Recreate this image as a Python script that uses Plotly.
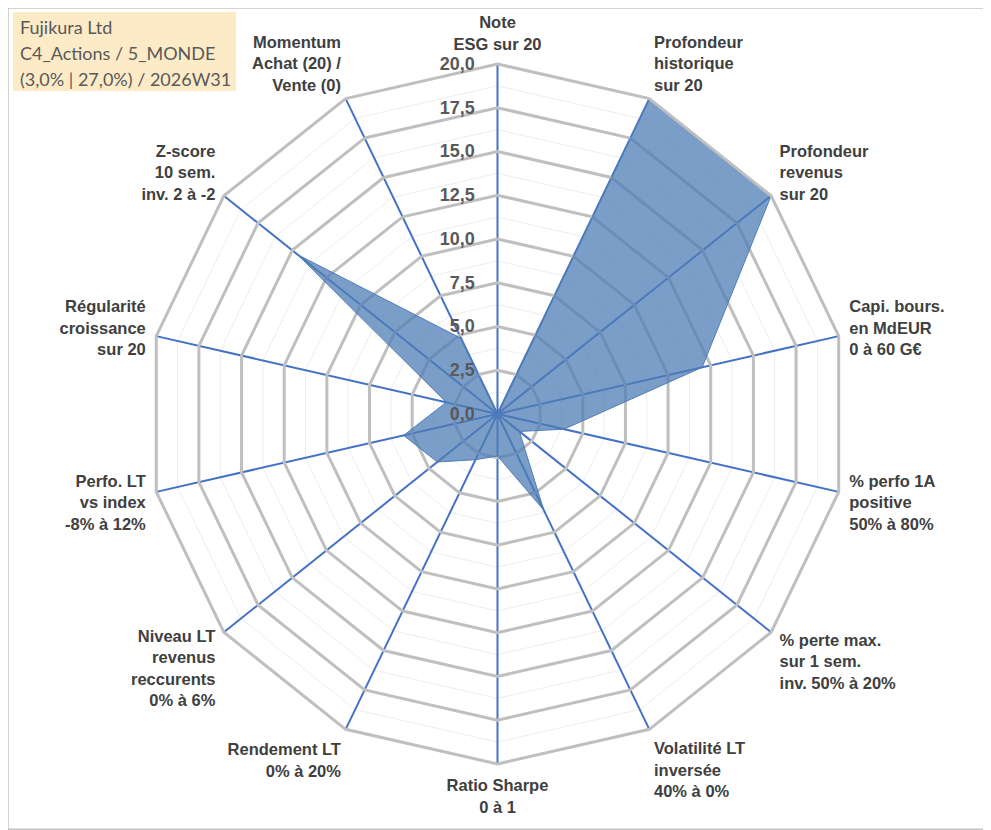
import plotly.graph_objects as go

# axes of the radar, clockwise from the top
CATEGORIES = [
    "Note<br>ESG sur 20",
    "Profondeur<br>historique<br>sur 20",
    "Profondeur<br>revenus<br>sur 20",
    "Capi. bours.<br>en MdEUR<br>0 à 60 G€",
    "% perfo 1A<br>positive<br>50% à 80%",
    "% perte max.<br>sur 1 sem.<br>inv. 50% à 20%",
    "Volatilité LT<br>inversée<br>40% à 0%",
    "Ratio Sharpe<br>0 à 1",
    "Rendement LT<br>0% à 20%",
    "Niveau LT<br>revenus<br>reccurents<br>0% à 6%",
    "Perfo. LT<br>vs index<br>-8% à 12%",
    "Régularité<br>croissance<br>sur 20",
    "Z-score<br>10 sem.<br>inv. 2 à -2",
    "Momentum<br>Achat (20) /<br>Vente (0)",
]
SCORES = [0.0, 20.0, 20.0, 12.0, 3.9, 1.6, 6.1, 2.4, 2.9, 4.4, 5.5, 3.0, 14.6, 4.8]

TITLE_LINES = ["Fujikura Ltd", "C4_Actions / 5_MONDE", "(3,0% | 27,0%) / 2026W31"]

GRID_GREY = "#BFBFBF"
MINOR_GREY = "#EDEDED"
SPOKE_BLUE = "#4472C4"
FILL_BLUE = "rgba(79,125,181,0.75)"
LABEL_COLOR = "#404040"
FONT = "Liberation Sans, Arial, sans-serif"

# page body has an 8px margin, so the figure is sized to fit inside the window
W, H = 983, 822

closed_cats = CATEGORIES + CATEGORIES[:1]
closed_scores = SCORES + SCORES[:1]

fig = go.Figure()

# invisible trace so the minor-grid polar gets the same polygon shape
fig.add_trace(
    go.Scatterpolar(
        r=[0] * len(CATEGORIES),
        theta=CATEGORIES,
        mode="lines",
        line=dict(width=0),
        hoverinfo="skip",
        showlegend=False,
        subplot="polar",
    )
)

fig.add_trace(
    go.Scatterpolar(
        r=closed_scores,
        theta=closed_cats,
        mode="lines",
        fill="toself",
        fillcolor=FILL_BLUE,
        line=dict(color="#4F7DB5", width=1),
        showlegend=False,
        subplot="polar2",
        hovertemplate="%{theta}: %{r:.1f}<extra></extra>",
    )
)

domain = dict(x=[0.1419, 0.8540], y=[0.0803, 0.9319])

fig.update_layout(
    width=W,
    height=H,
    margin=dict(l=0, r=0, t=0, b=0),
    paper_bgcolor="white",
    separators=", ",
    font=dict(family=FONT, color=LABEL_COLOR),
    polar=dict(
        domain=domain,
        bgcolor="white",
        gridshape="linear",
        radialaxis=dict(
            range=[0, 20],
            dtick=1.25,
            showticklabels=False,
            ticks="",
            showline=False,
            gridcolor=MINOR_GREY,
            gridwidth=1,
        ),
        angularaxis=dict(
            direction="clockwise",
            rotation=90,
            showticklabels=False,
            ticks="",
            showgrid=False,
            showline=False,
        ),
    ),
    polar2=dict(
        domain=domain,
        bgcolor="rgba(0,0,0,0)",
        gridshape="linear",
        radialaxis=dict(
            range=[0, 20],
            dtick=2.5,
            tickformat=".1f",
            angle=90,
            tickangle=90,
            side="counterclockwise",
            ticks="outside",
            ticklen=16,
            tickcolor="rgba(0,0,0,0)",
            showline=False,
            gridcolor=GRID_GREY,
            gridwidth=3,
            tickfont=dict(size=18, color="#595959", family=FONT, weight="bold"),
        ),
        angularaxis=dict(
            direction="clockwise",
            rotation=90,
            ticks="outside",
            ticklen=6,
            tickcolor="rgba(0,0,0,0)",
            showline=True,
            linecolor=GRID_GREY,
            linewidth=3,
            gridcolor=SPOKE_BLUE,
            gridwidth=1.5,
            tickfont=dict(size=16.5, color=LABEL_COLOR, family=FONT, weight="bold"),
        ),
    ),
)

# title box
fig.add_shape(
    type="rect",
    xref="paper",
    yref="paper",
    x0=0.0051,
    x1=0.2319,
    y0=0.8990,
    y1=0.9951,
    fillcolor="#FDEBC8",
    line=dict(width=0),
    layer="below",
)
for i, line in enumerate(TITLE_LINES):
    fig.add_annotation(
        text=line,
        xref="paper",
        yref="paper",
        x=0.0102,
        y=0.9769 - i * 0.0318,
        xanchor="left",
        yanchor="middle",
        align="left",
        showarrow=False,
        font=dict(size=18, color="#595959", family="Lato, Open Sans, sans-serif"),
    )

fig.add_shape(
    type="rect",
    xref="paper",
    yref="paper",
    x0=0,
    y0=0.001,
    x1=0.999,
    y1=1,
    line=dict(color="#A6A6A6", width=1),
)

fig.write_html("out.html")
